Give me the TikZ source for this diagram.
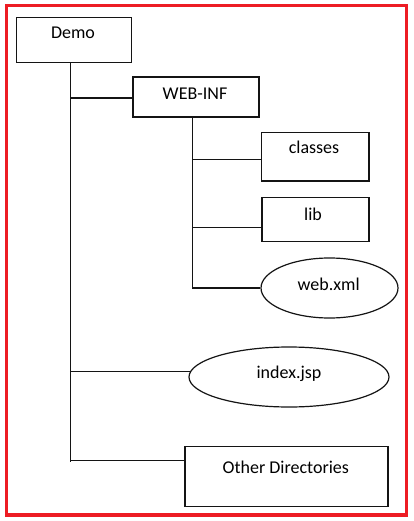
\documentclass[tikz,border=0pt]{standalone}
\usepackage{fontspec}
\setmainfont{Carlito}
\usetikzlibrary{shapes.geometric,calc}
\definecolor{frame}{RGB}{237,28,36}
\definecolor{ink}{RGB}{20,20,20}
\tikzset{
  box/.style={draw=ink, line width=1.2pt, rectangle, inner sep=0pt},
  oval/.style={draw=ink, line width=1.2pt, ellipse, inner sep=0pt},
  lbl/.style={anchor=base, inner sep=0pt, font=\fontsize{18}{21}\selectfont},
  wire/.style={draw=ink, line width=1.2pt}
}
\begin{document}
\begin{tikzpicture}[x=1pt,y=-1pt]
\useasboundingbox (0,0) rectangle (413,521);
\fill[white] (0,0) rectangle (413,521);
\draw[frame, line width=3.2pt] (6.5,5.5) rectangle (406.5,515);
% boxes
\node[box, minimum width=115pt, minimum height=45pt] (demo) at (74.2,39.8) {};
\node[box, minimum width=126pt, minimum height=40pt] (webinf) at (196,97) {};
\node[box, minimum width=107.3pt, minimum height=48.3pt] (classes) at (315.3,156.8) {};
\node[box, minimum width=107pt, minimum height=44pt] (lib) at (315.5,219.7) {};
\node[oval, minimum width=137pt, minimum height=60pt] (webxml) at (329.5,288) {};
\node[oval, minimum width=200pt, minimum height=60pt] (index) at (289,377) {};
\node[box, minimum width=203pt, minimum height=60pt] (other) at (286.5,476.7) {};
% labels
\node[lbl] (demot) at (73,39) {Demo};
\node[lbl] (webinft) at (195,100) {WEB-INF};
\node[lbl] (classest) at (314,154) {classes};
\node[lbl] (libt) at (313,220) {lib};
\node[lbl] (webxmlt) at (328.7,290) {web.xml};
\node[lbl] (indext) at (289,378.3) {index.jsp};
\node[lbl] (othert) at (285.8,473.3) {Other Directories};
% connectors
\coordinate (trunk) at ($(demo.south)+(-3.5,0)$);
\coordinate (sub) at ($(webinf.south)+(-3.3,0)$);
\coordinate (otherin) at ($(other.north west)+(0,14)$);
\draw[wire] (trunk) -- ($(trunk |- otherin)+(0,1.5)$);
\draw[wire] (trunk |- otherin) -- (otherin);
\draw[wire] (trunk |- webinf.west) ++(0,1) -- ($(webinf.west)+(0,1)$);
\draw[wire] (trunk |- index.177) -- (index.177);
\coordinate (classin) at ($(classes.south west)+(0,-22)$);
\coordinate (libin) at ($(lib.south west)+(0,-15)$);
\draw[wire] (sub) -- (sub |- webxml.west) -- (webxml.west);
\draw[wire] (sub |- classin) -- (classin);
\draw[wire] (sub |- libin) -- (libin);
\end{tikzpicture}
\end{document}
